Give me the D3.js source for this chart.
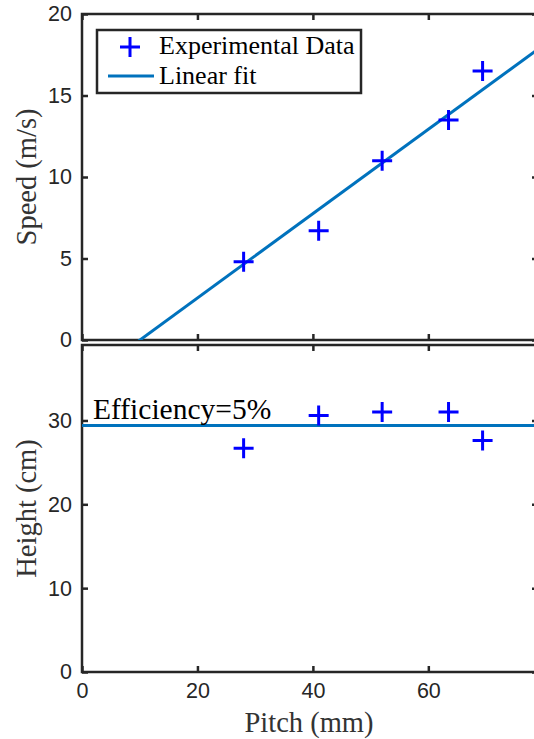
<!DOCTYPE html>
<html>
<head>
<meta charset="utf-8">
<script src="https://cdn.jsdelivr.net/npm/d3@7"></script>
<style>
  body { margin: 0; background: #fff; }
  svg { display: block; }
  .tick text { font-family: "Liberation Sans", Arial, sans-serif; font-size: 21.5px; fill: #262626; }
  .tick line { stroke: #262626; stroke-width: 2.5; }
  .lbl { font-family: "Liberation Serif", "Times New Roman", serif; fill: #333; }
</style>
</head>
<body>
<svg width="534" height="739"></svg>
<script>
'use strict';

// data
var pitch = [28, 41, 52, 63.5, 69.4];
var speed = [4.8, 6.7, 11.0, 13.5, 16.5];
var heightCm = [26.7, 30.6, 31.0, 31.0, 27.6];
var fitPitch = [0, 80];
var fitSpeed = [-2.6, 18.1];
var effLevel = 29.4;
var effLabel = 'Efficiency=5%';
var effPos = [1.9, 30.2];
var xTicks = [0, 20, 40, 60];
var speedTicks = [0, 5, 10, 15, 20];
var heightTicks = [0, 10, 20, 30];

var svg = d3.select('svg');
var dark = '#262626';
var fitColor = '#0072BD';

var x = d3.scaleLinear().domain([0, 79]).range([82, 538]);
var yTop = d3.scaleLinear().domain([0, 20]).range([340, 14]);
var yBot = d3.scaleLinear().domain([0, 39]).range([672, 345]);

var defs = svg.append('defs');
function clip(id, y) {
  defs.append('clipPath').attr('id', id)
    .append('rect')
    .attr('x', x.range()[0]).attr('y', y.range()[1])
    .attr('width', x.range()[1] - x.range()[0])
    .attr('height', y.range()[0] - y.range()[1]);
}
clip('clipTop', yTop);
clip('clipBot', yBot);

var plus = 'M-10,0H10M0,-10V10';

function panel(y, ticks, showX, clipId) {
  var g = svg.append('g');
  var x0 = x.range()[0], x1 = x.range()[1];
  var yb = y.range()[0], yt = y.range()[1];

  // ticks (inward)
  g.append('g').attr('transform', 'translate(' + x0 + ',0)')
    .call(d3.axisLeft(y).tickValues(ticks).tickSizeInner(-6).tickSizeOuter(0).tickPadding(10));
  g.append('g').attr('transform', 'translate(' + x1 + ',0)')
    .call(d3.axisRight(y).tickValues(ticks).tickSizeInner(-6).tickSizeOuter(0).tickFormat(''));
  g.append('g').attr('transform', 'translate(0,' + yt + ')')
    .call(d3.axisTop(x).tickValues(xTicks).tickSizeInner(-6).tickSizeOuter(0).tickFormat(''));
  var xb = d3.axisBottom(x).tickValues(xTicks).tickSizeInner(-6).tickSizeOuter(0).tickPadding(11);
  if (!showX) xb.tickFormat('');
  g.append('g').attr('transform', 'translate(0,' + yb + ')').call(xb);
  g.selectAll('.domain').remove();

  g.append('rect')
    .attr('x', x0).attr('y', yt)
    .attr('width', x1 - x0).attr('height', yb - yt)
    .attr('fill', 'none').attr('stroke', dark).attr('stroke-width', 2.5);

  return g.append('g').attr('clip-path', 'url(#' + clipId + ')');
}

// top panel: speed
var speedG = panel(yTop, speedTicks, false, 'clipTop');
speedG.append('path')
  .datum(d3.zip(fitPitch, fitSpeed))
  .attr('d', d3.line().x(function (d) { return x(d[0]); }).y(function (d) { return yTop(d[1]); }))
  .attr('fill', 'none').attr('stroke', fitColor).attr('stroke-width', 3);
speedG.selectAll('.pt')
  .data(d3.zip(pitch, speed))
  .enter().append('path')
  .attr('d', plus)
  .attr('transform', function (d) { return 'translate(' + x(d[0]) + ',' + yTop(d[1]) + ')'; })
  .attr('stroke', '#0000ff').attr('stroke-width', 3).attr('fill', 'none');

// bottom panel: height
var heightG = panel(yBot, heightTicks, true, 'clipBot');
heightG.append('line')
  .attr('x1', x(0)).attr('x2', x(80))
  .attr('y1', yBot(effLevel)).attr('y2', yBot(effLevel))
  .attr('stroke', fitColor).attr('stroke-width', 3);
heightG.selectAll('.pt')
  .data(d3.zip(pitch, heightCm))
  .enter().append('path')
  .attr('d', plus)
  .attr('transform', function (d) { return 'translate(' + x(d[0]) + ',' + yBot(d[1]) + ')'; })
  .attr('stroke', '#0000ff').attr('stroke-width', 3).attr('fill', 'none');
svg.append('text')
  .attr('class', 'lbl')
  .attr('x', x(effPos[0])).attr('y', yBot(effPos[1]))
  .style('fill', '#000').style('font-size', '29.5px')
  .text(effLabel);

// legend
var lg = svg.append('g').attr('transform', 'translate(97,30)');
lg.append('rect').attr('width', 264).attr('height', 63)
  .attr('fill', '#fff').attr('stroke', dark).attr('stroke-width', 2.5);
lg.append('path').attr('d', plus).attr('transform', 'translate(33,17)')
  .attr('stroke', '#0000ff').attr('stroke-width', 3).attr('fill', 'none');
lg.append('line').attr('x1', 11).attr('x2', 57).attr('y1', 46).attr('y2', 46)
  .attr('stroke', fitColor).attr('stroke-width', 3);
lg.append('text').attr('class', 'lbl').attr('x', 62).attr('y', 24)
  .style('fill', '#000').style('font-size', '26px').text('Experimental Data');
lg.append('text').attr('class', 'lbl').attr('x', 62).attr('y', 54)
  .style('fill', '#000').style('font-size', '26px').text('Linear fit');

// axis labels
svg.append('text').attr('class', 'lbl')
  .attr('transform', 'translate(36,' + yTop(10) + ') rotate(-90)')
  .attr('text-anchor', 'middle').style('font-size', '28.5px')
  .text('Speed (m/s)');
svg.append('text').attr('class', 'lbl')
  .attr('transform', 'translate(36,' + yBot(19.5) + ') rotate(-90)')
  .attr('text-anchor', 'middle').style('font-size', '28.5px')
  .text('Height (cm)');
svg.append('text').attr('class', 'lbl')
  .attr('x', 309).attr('y', 732)
  .attr('text-anchor', 'middle').style('font-size', '28.5px')
  .text('Pitch (mm)');
</script>
</body>
</html>
